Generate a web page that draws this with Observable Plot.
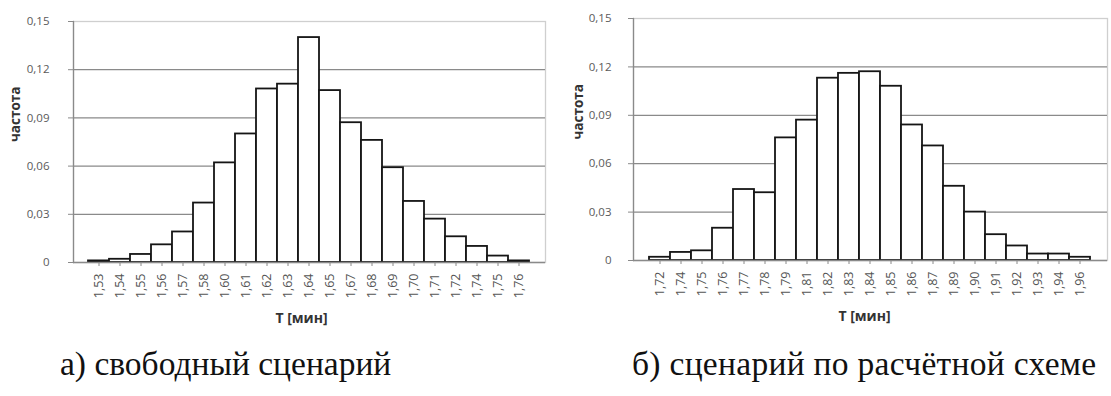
<!DOCTYPE html>
<html><head><meta charset="utf-8">
<script src="https://cdn.jsdelivr.net/npm/d3@7"></script>
<script src="https://cdn.jsdelivr.net/npm/@observablehq/plot@0.6"></script>
<style>
body{margin:0;background:#fff;width:1111px;height:396px;position:relative;overflow:hidden}
#a,#b{position:absolute;top:0}
#a{left:0}#b{left:555px}
.cap{position:absolute;font-family:"Liberation Serif";font-size:33.5px;color:#111;white-space:nowrap;line-height:1}
#capA{left:60px;top:347px}
#capB{left:632px;top:347px;letter-spacing:0.3px}
</style></head><body>
<div id="a"></div><div id="b"></div>
<div class="cap" id="capA">а) свободный сценарий</div>
<div class="cap" id="capB">б) сценарий по расчётной схеме</div>
<script>
const labelsA = ["1,53","1,54","1,55","1,56","1,57","1,58","1,60","1,61","1,62","1,63","1,64","1,65","1,67","1,68","1,69","1,70","1,71","1,72","1,74","1,75","1,76"];
const valuesA = [0.001,0.002,0.005,0.011,0.019,0.037,0.062,0.080,0.108,0.111,0.140,0.107,0.087,0.076,0.059,0.038,0.027,0.016,0.010,0.004,0.001];
const labelsB = ["1,72","1,74","1,75","1,76","1,77","1,78","1,79","1,81","1,82","1,83","1,84","1,85","1,86","1,87","1,89","1,90","1,91","1,92","1,93","1,94","1,96"];
const valuesB = [0.002,0.005,0.006,0.020,0.044,0.042,0.076,0.087,0.113,0.116,0.117,0.108,0.084,0.071,0.046,0.030,0.016,0.009,0.004,0.004,0.002];
const yTicks = [0,0.03,0.06,0.09,0.12,0.15];
const xTitle = "T [мин]";
const yTitle = "частота";
const fmt = d => d === 0 ? "0" : d.toFixed(2).replace(".", ",");

function hist(labels, values, o) {
  const data = labels.map((t, i) => ({t, f: values[i]}));
  const H = 340;
  return Plot.plot({
    width: o.width, height: H,
    marginLeft: o.ml, marginRight: o.mr, marginTop: o.mt, marginBottom: H - o.bottom,
    style: {fontFamily: "Open Sans", background: "white", overflow: "visible"},
    x: {type: "band", domain: labels, padding: 0, insetLeft: o.il, insetRight: o.ir, axis: null},
    y: {domain: [0, 0.15], axis: null},
    marks: [
      Plot.frame({stroke: "#cfcfcf", strokeWidth: 1.3}),
      Plot.gridY(yTicks.slice(1, -1), {stroke: "#8a8a8a", strokeOpacity: 1, strokeWidth: 1.3}),
      Plot.barY(data, {x: "t", y: "f", fill: "white", stroke: "#151515", strokeWidth: 1.8}),
      Plot.ruleY([0], {stroke: "#8a8a8a", strokeWidth: 1.3}),
      Plot.frame({anchor: "left", stroke: "#8a8a8a", strokeWidth: 1.3}),
      Plot.axisY(yTicks, {tickSize: 5, tickPadding: o.tp, tickFormat: fmt, fontSize: 11.5, stroke: "#8a8a8a", fill: "#5a5a5a", label: null}),
      Plot.axisX({tickRotate: -90, tickSize: 4, tickPadding: 7, fontSize: 12.5, stroke: "#8a8a8a", fill: "#555", label: null}),
      Plot.text([xTitle], {frameAnchor: "bottom", dy: 60, dx: o.tdx, fontWeight: "bold", fontSize: 14, fill: "#333"}),
      Plot.text([yTitle], {frameAnchor: "left", dx: o.ydx, rotate: -90, fontWeight: "bold", fontSize: 13.5, fill: "#333"})
    ]
  });
}

document.getElementById("a").append(hist(labelsA, valuesA, {width: 555, ml: 73, mr: 10, mt: 21, bottom: 262, il: 10, ir: 12, tp: 19, tdx: -8, ydx: -58}));
document.getElementById("b").append(hist(labelsB, valuesB, {width: 556, ml: 78, mr: 4, mt: 18, bottom: 260, il: 10, ir: 11, tp: 17, tdx: -6, ydx: -55}));
</script>
</body></html>
